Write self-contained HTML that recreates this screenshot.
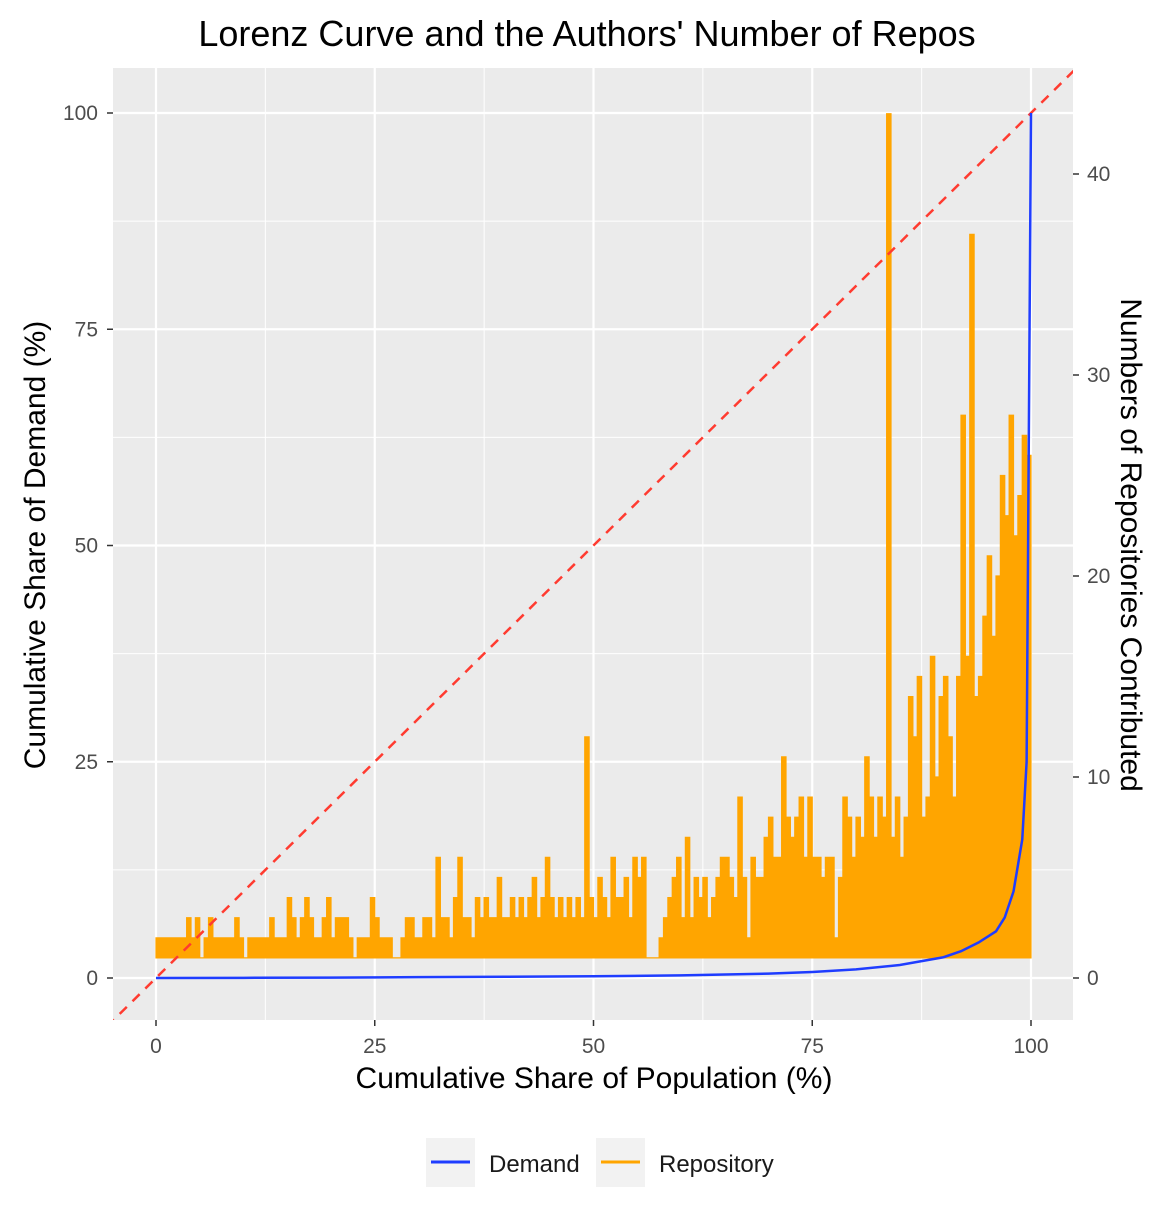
<!DOCTYPE html>
<html><head><meta charset="utf-8"><style>
body{margin:0;background:#fff;}
svg text{font-family:"Liberation Sans",sans-serif;}
</style></head><body>
<svg id="chart" width="1175" height="1205" xmlns="http://www.w3.org/2000/svg">
<rect width="1175" height="1205" fill="#fff"/>
<text x="587" y="46" font-size="36" text-anchor="middle" fill="#000">Lorenz Curve and the Authors' Number of Repos</text>
<rect x="113" y="68" width="960" height="952" fill="#ebebeb"/>
<g id="grid"></g>
<clipPath id="clip"><rect x="113" y="68" width="960" height="952"/></clipPath>
<g id="marks" clip-path="url(#clip)"></g>
<g id="axes"></g>
<text x="594" y="1088" font-size="30" text-anchor="middle">Cumulative Share of Population (%)</text>
<text transform="translate(45,545) rotate(-90)" font-size="30" text-anchor="middle">Cumulative Share of Demand (%)</text>
<text transform="translate(1121,545) rotate(90)" font-size="30" text-anchor="middle">Numbers of Repositories Contributed</text>
<g>
<rect x="426" y="1138" width="49" height="49" fill="#f2f2f2"/>
<line x1="431" y1="1162" x2="470" y2="1162" stroke="#1f3dff" stroke-width="3"/>
<text x="489" y="1172" font-size="24" fill="#1a1a1a">Demand</text>
<rect x="596" y="1138" width="49" height="49" fill="#f2f2f2"/>
<line x1="601" y1="1162" x2="640" y2="1162" stroke="#ffa500" stroke-width="3"/>
<text x="659" y="1172" font-size="24" fill="#1a1a1a">Repository</text>
</g>
</svg>
<script>
const xTicks=[0,25,50,75,100];
const yLeftTicks=[0,25,50,75,100];
const yRightTicks=[0,10,20,30,40];
const repoStep=0.5;
const repoValues=[2,2,2,2,2,2,2,3,2,3,1,2,3,2,2,2,2,2,3,2,1,2,2,2,
2,2,3,2,2,2,4,3,2,3,4,3,2,2,3,4,2,3,3,3,2,1,2,2,2,4,
3,2,2,2,1,1,2,3,3,2,2,3,3,2,6,3,3,2,4,6,3,3,2,4,3,
4,3,3,5,3,3,4,3,4,3,4,5,3,4,6,4,3,4,3,4,3,4,3,12,4,
3,5,4,3,6,4,4,5,3,6,5,6,
1,1,1,2,
3,4,5,6,3,7,3,5,4,5,3,4,5,6,6,5,4,9,5,
2,6,5,5,7,8,6,6,11,8,7,8,9,6,9,6,6,5,6,6,2,
5,9,8,6,8,7,11,9,7,9,8,43,7,9,6,8,14,12,15,
8,9,16,10,14,15,12,9,15,28,16,37,14,15,18,21,17,20,25,23,28,22,24,27,26];
const demandPop=[0,10,20,30,40,50,60,70,75,80,85,90,92,94,96,97,98,99,99.5,100];
const demandShare=[0,0.02,0.05,0.1,0.15,0.2,0.3,0.5,0.7,1.0,1.5,2.4,3.1,4.1,5.4,7,10,16,25,100];

const NS="http://www.w3.org/2000/svg";
const X=p=>156+p*8.75;
const YL=v=>978-v*8.65;
const YR=v=>978-v*20.1;
function mk(tag,attrs,parent){const e=document.createElementNS(NS,tag);for(const k in attrs)e.setAttribute(k,attrs[k]);parent.appendChild(e);return e;}
const grid=document.getElementById('grid'),marks=document.getElementById('marks'),axes=document.getElementById('axes');
for(let i=0;i<xTicks.length-1;i++){const m=(xTicks[i]+xTicks[i+1])/2;const l=mk('line',{x1:X(m),x2:X(m),y1:68,y2:1020,stroke:'#fff','stroke-width':1},grid);

}
for(let i=0;i<yLeftTicks.length-1;i++){const m=(yLeftTicks[i]+yLeftTicks[i+1])/2;const l=mk('line',{x1:113,x2:1073,y1:YL(m),y2:YL(m),stroke:'#fff','stroke-width':1},grid);

}
xTicks.forEach(t=>{const l=mk('line',{x1:X(t),x2:X(t),y1:68,y2:1020,stroke:'#fff','stroke-width':2.2},grid);


mk('line',{x1:X(t),x2:X(t),y1:1020,y2:1026,stroke:'#333','stroke-width':1.5},axes);
const tx=mk('text',{x:X(t),y:1053,'font-size':21,'text-anchor':'middle',fill:'#4d4d4d'},axes);tx.textContent=t;

});
yLeftTicks.forEach(t=>{const l=mk('line',{x1:113,x2:1073,y1:YL(t),y2:YL(t),stroke:'#fff','stroke-width':2.2},grid);


mk('line',{x1:107,x2:113,y1:YL(t),y2:YL(t),stroke:'#333','stroke-width':1.5},axes);
const tx=mk('text',{x:98,y:YL(t)+7,'font-size':21,'text-anchor':'end',fill:'#4d4d4d'},axes);tx.textContent=t;

});
yRightTicks.forEach(t=>{mk('line',{x1:1073,x2:1079,y1:YR(t),y2:YR(t),stroke:'#333','stroke-width':1.5},axes);
const tx=mk('text',{x:1087,y:YR(t)+7,'font-size':21,'text-anchor':'start',fill:'#4d4d4d'},axes);tx.textContent=t;

});
let pts=[[X(0),YR(1)]];
repoValues.forEach((v,i)=>{pts.push([X(i*repoStep),YR(v)]);pts.push([X((i+1)*repoStep),YR(v)]);});
pts.push([X(repoValues.length*repoStep),YR(1)]);
const area=mk('polygon',{points:pts.map(p=>p.join(',')).join(' '),fill:'#ffa500',stroke:'#ffa500','stroke-width':1.2},marks);


const eq=mk('line',{x1:X(-10),y1:YL(-10),x2:X(110),y2:YL(110),stroke:'#ff3b30','stroke-width':2.5,'stroke-dasharray':'10,8'},marks);


const dc=mk('polyline',{points:demandPop.map((p,i)=>X(p)+','+YL(demandShare[i])).join(' '),fill:'none',stroke:'#1f3dff','stroke-width':2.5},marks);


</script>
</body></html>
